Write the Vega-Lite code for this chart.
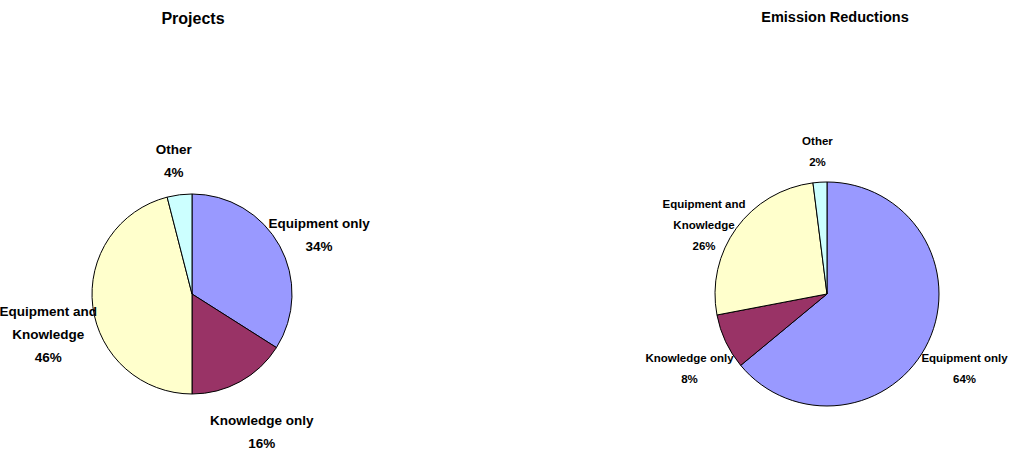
{
  "$schema": "https://vega.github.io/schema/vega-lite/v6.json",
  "background": "white",
  "autosize": "none",
  "padding": 0,
  "width": 1010,
  "height": 452,
  "config": {
    "view": {"stroke": null},
    "font": "Liberation Sans"
  },
  "datasets": {
    "projects": [
      {"chart": "Projects", "category": "Equipment only", "value": 34, "order": 1, "label": "Equipment only\n34%"},
      {"chart": "Projects", "category": "Knowledge only", "value": 16, "order": 2, "label": "Knowledge only\n16%"},
      {"chart": "Projects", "category": "Equipment and Knowledge", "value": 46, "order": 3, "label": "Equipment and\nKnowledge\n46%"},
      {"chart": "Projects", "category": "Other", "value": 4, "order": 4, "label": "Other\n4%"}
    ],
    "emissions": [
      {"chart": "Emission Reductions", "category": "Equipment only", "value": 64, "order": 1, "label": "Equipment only\n64%"},
      {"chart": "Emission Reductions", "category": "Knowledge only", "value": 8, "order": 2, "label": "Knowledge only\n8%"},
      {"chart": "Emission Reductions", "category": "Equipment and Knowledge", "value": 26, "order": 3, "label": "Equipment and\nKnowledge\n26%"},
      {"chart": "Emission Reductions", "category": "Other", "value": 2, "order": 4, "label": "Other\n2%"}
    ],
    "titles": [
      {"chart": "Projects"},
      {"chart": "Emission Reductions"}
    ]
  },
  "layer": [
    {
      "data": {"name": "projects"},
      "mark": {"type": "arc", "radius": 100, "stroke": "black", "strokeWidth": 1},
      "encoding": {
        "x": {"field": "chart", "type": "nominal", "axis": null,
              "scale": {"type": "point", "domain": ["Projects", "Emission Reductions"], "padding": 0.2953, "align": 0.512}},
        "y": {"datum": "pie", "type": "nominal", "axis": null,
              "scale": {"type": "point", "domain": ["title", "pie"], "padding": 0.3218, "align": 0.1073}},
        "theta": {"field": "value", "type": "quantitative", "stack": true},
        "order": {"field": "order", "type": "quantitative"},
        "color": {
          "field": "category", "type": "nominal", "legend": null,
          "scale": {"domain": ["Equipment only", "Knowledge only", "Equipment and Knowledge", "Other"],
                    "range": ["#9999FF", "#993366", "#FFFFCC", "#CCFFFF"]}
        }
      }
    },
    {
      "data": {"name": "projects"},
      "mark": {"type": "text", "radius": 145, "fontSize": 13.5, "fontWeight": "bold", "lineBreak": "\n", "lineHeight": 23, "align": "center", "baseline": "middle", "color": "black"},
      "encoding": {
        "x": {"field": "chart", "type": "nominal"},
        "y": {"datum": "pie", "type": "nominal"},
        "theta": {"field": "value", "type": "quantitative", "stack": true},
        "order": {"field": "order", "type": "quantitative"},
        "text": {"field": "label", "type": "nominal"}
      }
    },
    {
      "data": {"name": "emissions"},
      "mark": {"type": "arc", "radius": 112, "stroke": "black", "strokeWidth": 1},
      "encoding": {
        "x": {"field": "chart", "type": "nominal"},
        "y": {"datum": "pie", "type": "nominal"},
        "theta": {"field": "value", "type": "quantitative", "stack": true},
        "order": {"field": "order", "type": "quantitative"},
        "color": {"field": "category", "type": "nominal"}
      }
    },
    {
      "data": {"name": "emissions"},
      "mark": {"type": "text", "radius": 152, "fontSize": 11.5, "fontWeight": "bold", "lineBreak": "\n", "lineHeight": 21, "align": "center", "baseline": "middle", "color": "black"},
      "encoding": {
        "x": {"field": "chart", "type": "nominal"},
        "y": {"datum": "pie", "type": "nominal"},
        "theta": {"field": "value", "type": "quantitative", "stack": true},
        "order": {"field": "order", "type": "quantitative"},
        "text": {"field": "label", "type": "nominal"}
      }
    },
    {
      "data": {"name": "titles"},
      "transform": [{"filter": "datum.chart === 'Projects'"}],
      "mark": {"type": "text", "fontSize": 16, "fontWeight": "bold", "align": "center", "baseline": "middle", "color": "black", "dx": 1},
      "encoding": {
        "x": {"field": "chart", "type": "nominal"},
        "y": {"datum": "title", "type": "nominal"},
        "text": {"field": "chart", "type": "nominal"}
      }
    },
    {
      "data": {"name": "titles"},
      "transform": [{"filter": "datum.chart === 'Emission Reductions'"}],
      "mark": {"type": "text", "fontSize": 14.5, "fontWeight": "bold", "align": "center", "baseline": "middle", "color": "black", "dx": 8, "dy": -1},
      "encoding": {
        "x": {"field": "chart", "type": "nominal"},
        "y": {"datum": "title", "type": "nominal"},
        "text": {"field": "chart", "type": "nominal"}
      }
    }
  ]
}
